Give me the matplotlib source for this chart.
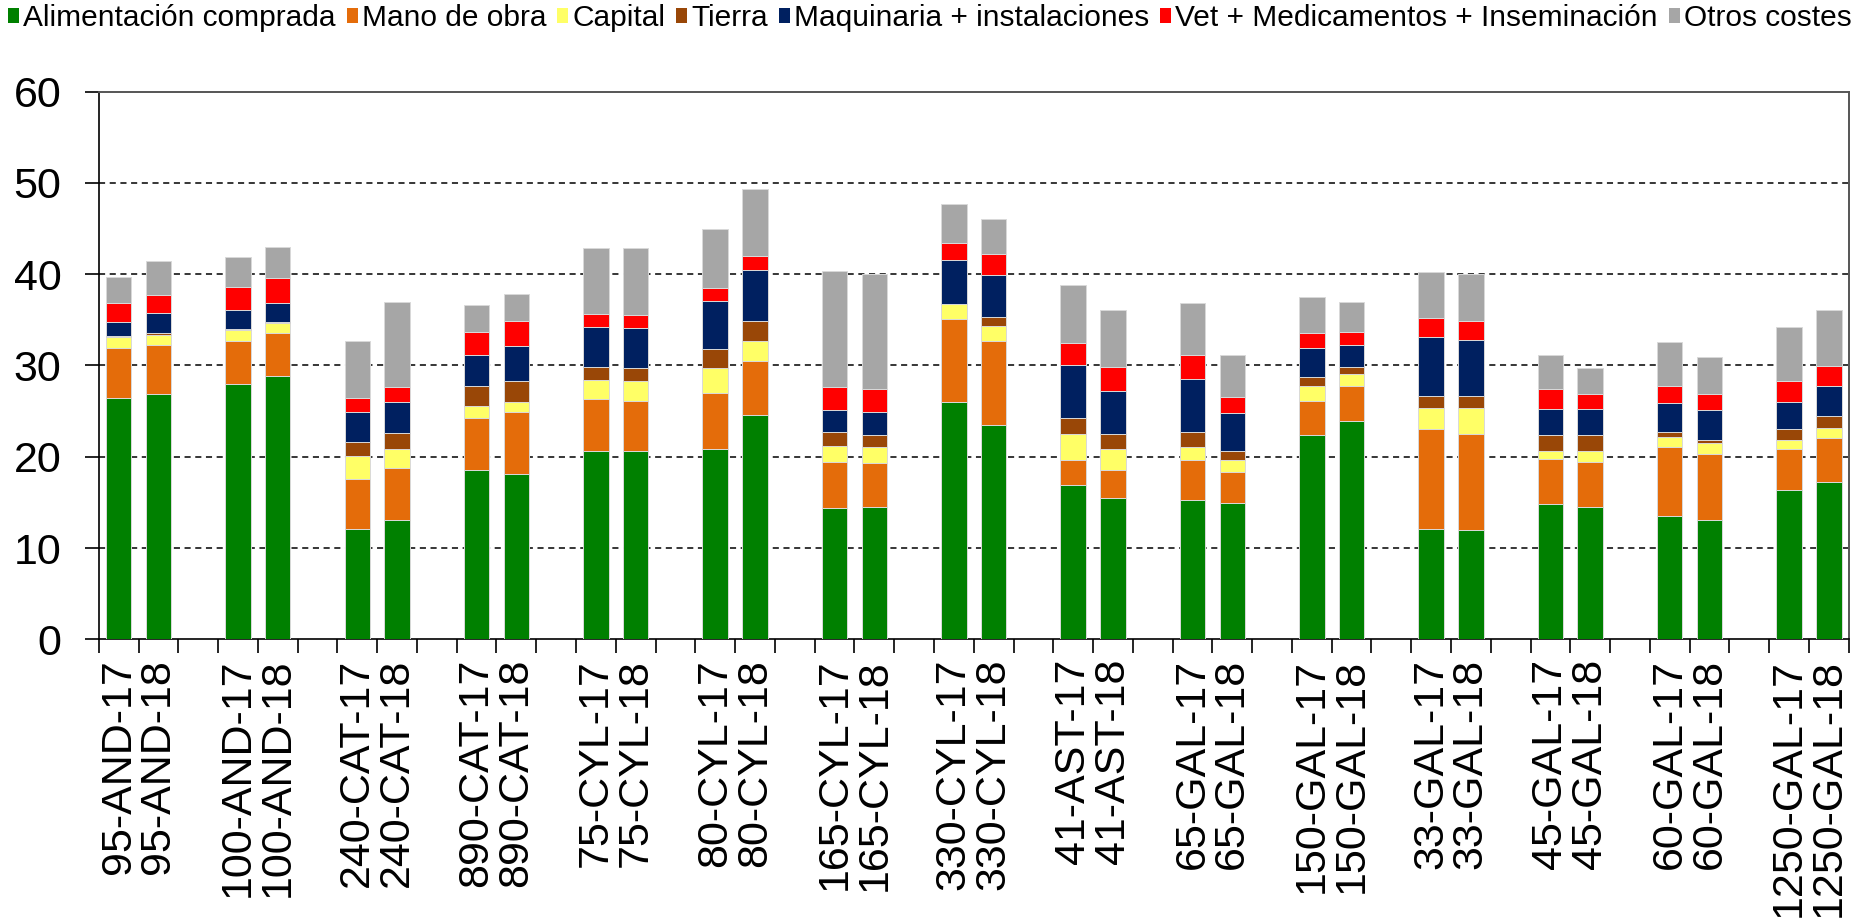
import numpy as np
import matplotlib
matplotlib.use("Agg")
import matplotlib.pyplot as plt
from matplotlib import font_manager
from matplotlib.patches import Patch

# granjas (dos años por granja)
farms = ['95-AND', '100-AND', '240-CAT', '890-CAT', '75-CYL', '80-CYL', '165-CYL',
         '330-CYL', '41-AST', '65-GAL', '150-GAL', '33-GAL', '45-GAL', '60-GAL', '1250-GAL']
years = ['17', '18']

series_names = ['Alimentación comprada', 'Mano de obra', 'Capital', 'Tierra',
                'Maquinaria + instalaciones', 'Vet + Medicamentos + Inseminación', 'Otros costes']
series_colors = ['#008000', '#E46C0A', '#FFFF66', '#994707', '#002060', '#FF0000', '#A6A6A6']

alimentacion = [26.4, 26.9, 28.0, 28.8, 12.1, 13.1, 18.5, 18.1, 20.6, 20.6, 20.9, 24.6, 14.4, 14.5, 26.0,
                23.5, 16.9, 15.5, 15.3, 14.9, 22.4, 23.9, 12.1, 12.0, 14.8, 14.5, 13.5, 13.1, 16.4, 17.2]
mano_obra = [5.5, 5.4, 4.7, 4.8, 5.5, 5.7, 5.8, 6.8, 5.7, 5.5, 6.1, 5.9, 5.0, 4.8, 9.1,
             9.2, 2.8, 3.0, 4.4, 3.4, 3.7, 3.9, 10.9, 10.5, 5.0, 4.9, 7.6, 7.2, 4.4, 4.9]
capital = [1.2, 1.0, 1.2, 1.1, 2.5, 2.1, 1.3, 1.1, 2.1, 2.2, 2.7, 2.2, 1.8, 1.8, 1.6,
           1.6, 2.8, 2.3, 1.4, 1.3, 1.7, 1.3, 2.3, 2.8, 0.8, 1.2, 1.1, 1.2, 1.0, 1.0]
tierra = [0.1, 0.3, 0.1, 0.05, 1.5, 1.7, 2.1, 2.3, 1.4, 1.4, 2.1, 2.2, 1.5, 1.3, 0.05,
          1.0, 1.8, 1.7, 1.6, 1.0, 0.9, 0.7, 1.4, 1.4, 1.8, 1.8, 0.5, 0.3, 1.2, 1.4]
maquinaria = [1.6, 2.1, 2.1, 2.1, 3.3, 3.4, 3.4, 3.8, 4.4, 4.4, 5.3, 5.6, 2.4, 2.5, 4.8,
              4.6, 5.7, 4.7, 5.8, 4.2, 3.2, 2.4, 6.4, 6.1, 2.8, 2.8, 3.2, 3.3, 3.0, 3.2]
veterinario = [2.1, 2.0, 2.5, 2.7, 1.5, 1.6, 2.6, 2.8, 1.4, 1.4, 1.4, 1.5, 2.5, 2.5, 1.9,
               2.3, 2.5, 2.6, 2.7, 1.8, 1.7, 1.5, 2.1, 2.1, 2.2, 1.7, 1.9, 1.8, 2.3, 2.2]
otros = [2.8, 3.7, 3.3, 3.4, 6.3, 9.4, 2.9, 2.9, 7.3, 7.4, 6.4, 7.3, 12.7, 12.6, 4.2,
         3.8, 6.3, 6.3, 5.6, 4.5, 3.9, 3.3, 5.0, 5.1, 3.7, 2.8, 4.8, 4.0, 5.9, 6.2]

series = [alimentacion, mano_obra, capital, tierra, maquinaria, veterinario, otros]


def pick_font(names):
    for n in names:
        try:
            font_manager.findfont(n, fallback_to_default=False)
            return n
        except Exception:
            pass
    return 'DejaVu Sans'


main_font = pick_font(['Liberation Sans', 'Arial'])
plt.rcParams['font.family'] = main_font

labels = ['{0}-{1}'.format(f, y) for f in farms for y in years]
# cada granja ocupa 3 huecos: dos barras y un hueco vacío
x = np.array([3 * g + k + 0.5 for g in range(len(farms)) for k in range(len(years))])
n_slots = 3 * len(farms) - 1

fig = plt.figure(figsize=(18.67, 9.21), dpi=100)
ax = fig.add_axes([0.0529, 0.3058, 0.9373, 0.5947])

bottom = np.zeros(len(labels))
for name, vals, col in zip(series_names, series, series_colors):
    vals = np.array(vals)
    ax.bar(x, vals, width=0.64, bottom=bottom, color=col, edgecolor='#d9d9d9', linewidth=0.7, zorder=3)
    bottom += vals

ax.set_xlim(0, n_slots)
ax.set_ylim(0, 60)
ax.set_yticks(range(0, 61, 10))
ax.tick_params(axis='y', labelsize=31, length=10, width=1.2, direction='out', pad=17)

ax.set_xticks(x)
ax.set_xticklabels(labels, rotation=90, fontsize=31)
ax.set_xticks(np.arange(0, n_slots + 1), minor=True)
ax.tick_params(axis='x', which='major', length=0, pad=14)
ax.tick_params(axis='x', which='minor', length=10, width=1.2, direction='out')

for v in range(10, 60, 10):
    ax.axhline(v, color='black', linestyle=(0, (4, 3)), linewidth=1.1, zorder=1)

for s in ['left', 'bottom']:
    ax.spines[s].set_color('black')
    ax.spines[s].set_linewidth(1.2)
for s in ['top', 'right']:
    ax.spines[s].set_color('#555555')
    ax.spines[s].set_linewidth(1.4)

leg_size = 21.5
leg_px = leg_size * 100 / 72.0

handles = [Patch(facecolor=c, edgecolor='none') for c in series_colors]
fig.legend(handles, series_names, loc='center', bbox_to_anchor=(0.498, 0.980), ncol=7,
           frameon=False, prop={'family': main_font, 'size': leg_size},
           handlelength=11 / leg_px, handleheight=12 / leg_px,
           handletextpad=4 / leg_px, columnspacing=11 / leg_px, borderpad=0)

fig.savefig('out.png', dpi=100)
